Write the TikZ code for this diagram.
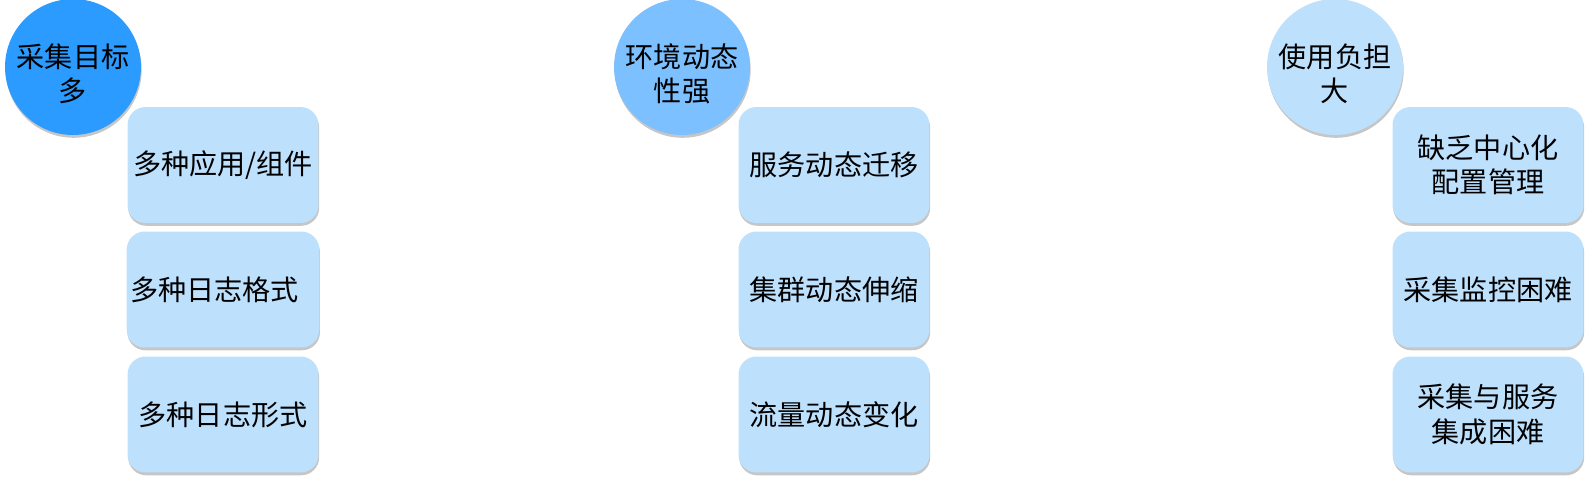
\documentclass[tikz,border=0pt]{standalone}
\usepackage{fontspec}
\setmainfont{Noto Sans CJK SC}
\usetikzlibrary{shadows}

\definecolor{bluedeep}{RGB}{43,155,255}
\definecolor{bluemid}{RGB}{125,192,255}
\definecolor{bluepale}{RGB}{189,224,253}

\tikzset{
  goal/.style={circle,minimum size=2.72cm,inner sep=0pt,align=center,
    font=\fontsize{16}{19.5}\selectfont,
    drop shadow={shadow xshift=0.4pt,shadow yshift=-1.6pt,opacity=0.45,fill=gray}},
  goaltext/.style={align=center,font=\fontsize{16}{19.5}\selectfont},
  item/.style={rounded corners=0.36cm,fill=bluepale,minimum width=3.82cm,
    minimum height=2.32cm,inner sep=2pt,align=center,
    font=\fontsize{16}{19.5}\selectfont,
    drop shadow={shadow xshift=0.4pt,shadow yshift=-1.6pt,opacity=0.45,fill=gray}}
}

\begin{document}
\begin{tikzpicture}[x=0.02cm,y=-0.02cm]
\useasboundingbox (0,0) rectangle (1593,479);

%采集目标多
\node[goal,fill=bluedeep](goalA) at (73,67){};
\node[goaltext](goalAtext) at (73,74){采集目标\\多};
\node[item](itemA1) at (223,165){多种应用/组件};
\node[item](itemA2) at (223,289.5){多种日志格式\hspace{0.6em}};
\node[item](itemA3) at (223,414.5){多种日志形式};

%环境动态性强
\node[goal,fill=bluemid](goalB) at (682,67){};
\node[goaltext](goalBtext) at (682,74){环境动态\\性强};
\node[item](itemB1) at (834,165){服务动态迁移};
\node[item](itemB2) at (834,289.5){集群动态伸缩};
\node[item](itemB3) at (834,414.5){流量动态变化};

%使用负担大
\node[goal,fill=bluepale](goalC) at (1335,67){};
\node[goaltext](goalCtext) at (1335,74){使用负担\\大};
\node[item](itemC1) at (1488,165){缺乏中心化\\配置管理};
\node[item](itemC2) at (1488,289.5){采集监控困难};
\node[item](itemC3) at (1488,414.5){采集与服务\\集成困难};
\end{tikzpicture}
\end{document}
